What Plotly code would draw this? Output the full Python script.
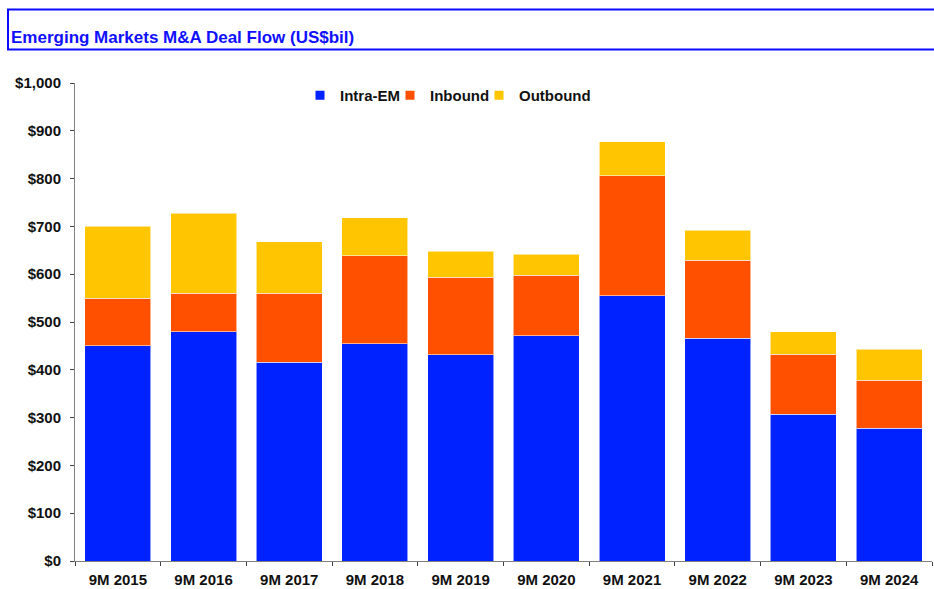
import plotly.graph_objects as go

categories = ["9M 2015", "9M 2016", "9M 2017", "9M 2018", "9M 2019",
              "9M 2020", "9M 2021", "9M 2022", "9M 2023", "9M 2024"]
intra_em = [450, 480, 416, 454, 431, 471, 555, 466, 307, 278]
inbound = [100, 80, 144, 185, 163, 127, 251, 163, 126, 100]
outbound = [150, 168, 108, 79, 54, 44, 71, 63, 47, 65]
y_ticks = [0, 100, 200, 300, 400, 500, 600, 700, 800, 900, 1000]
y_tick_labels = ["$0", "$100", "$200", "$300", "$400", "$500",
                 "$600", "$700", "$800", "$900", "$1,000"]

series = [("Intra-EM", intra_em, "#0022FF"),
          ("Inbound", inbound, "#FF5000"),
          ("Outbound", outbound, "#FFC600")]

W, H = 934, 589
ML, MR, MT, MB = 75, 2, 83, 28
PW, PH = W - ML - MR, H - MT - MB

def px2x(px):
    return (px - ML) / PW

def py2y(py):
    return (H - MB - py) / PH

FONT = "Liberation Sans, Arial, sans-serif"
legend_ids = ["legend", "legend2", "legend3"]
legend_left_px = [300, 390, 479]

fig = go.Figure()
for name, vals, col in series:
    fig.add_trace(go.Bar(
        x=categories, y=vals, name=name, showlegend=False,
        marker=dict(color=col, line=dict(color="rgba(255,255,255,0.55)", width=1)),
    ))
for (name, vals, col), lid in zip(series, legend_ids):
    fig.add_trace(go.Scatter(
        x=[None], y=[None], mode="markers", name=name, legend=lid,
        marker=dict(symbol="square", size=9, color=col),
    ))

legend_common = dict(orientation="h", xanchor="left", yanchor="top",
                     font=dict(family=FONT, size=15, color="#111111", weight="bold"),
                     itemwidth=30, bgcolor="rgba(0,0,0,0)")

fig.update_layout(
    width=W, height=H,
    margin=dict(l=ML, r=MR, t=MT, b=MB, autoexpand=False),
    barmode="stack", bargap=0.23,
    paper_bgcolor="white", plot_bgcolor="white",
    font=dict(family=FONT, size=15, color="#000000"),
    showlegend=True,
    xaxis=dict(type="category", showgrid=False, zeroline=False,
               showline=True, linecolor="#808080", linewidth=1,
               ticks="outside", ticklen=4, tickcolor="#404040", tickson="boundaries",
               tickfont=dict(family=FONT, size=15, color="#111111", weight="bold"),
               ticklabelstandoff=5),
    yaxis=dict(range=[0, 1000], tickvals=y_ticks, ticktext=y_tick_labels,
               showgrid=False, zeroline=False,
               showline=True, linecolor="#808080", linewidth=1,
               ticks="outside", ticklen=4, tickcolor="#404040",
               tickfont=dict(family=FONT, size=15, color="#111111", weight="bold"),
               ticklabelstandoff=6),
)
for lid, lpx in zip(legend_ids, legend_left_px):
    fig.update_layout({lid: dict(legend_common, x=px2x(lpx), y=py2y(79))})

fig.add_shape(type="rect", xref="paper", yref="paper",
              x0=px2x(8), x1=px2x(W + 10), y0=py2y(49.5), y1=py2y(9.5),
              line=dict(color="#0A0AFF", width=2), fillcolor="rgba(0,0,0,0)")
fig.add_annotation(xref="paper", yref="paper", x=px2x(9), y=py2y(38),
                   xanchor="left", yanchor="middle", showarrow=False,
                   text="Emerging Markets M&A Deal Flow (US$bil)",
                   font=dict(family=FONT, size=17, color="#1010FF", weight="bold"))

fig.write_html("out.html", config={"displayModeBar": False},
               post_script="document.body.style.margin='0px';document.body.style.overflow='hidden';")
